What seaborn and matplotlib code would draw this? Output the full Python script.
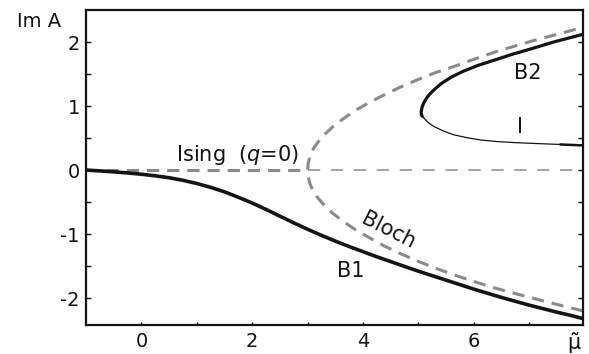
import matplotlib
matplotlib.use("Agg")
import matplotlib.pyplot as plt
import seaborn as sns

# ---- data ----
b1_x = [-1.0, -0.75, -0.5, -0.25, 0.0, 0.25, 0.5, 0.75, 1.0, 1.25, 1.5, 1.75, 2.0, 2.25, 2.5, 2.75,
        3.0, 3.25, 3.5, 3.75, 4.0, 4.25, 4.5, 4.75, 5.0, 5.25, 5.5, 5.75, 6.0, 6.25, 6.5, 6.75,
        7.0, 7.25, 7.5, 7.75, 7.97]
b1_y = [0.0, -0.013, -0.028, -0.045, -0.065, -0.09, -0.12, -0.16, -0.21, -0.27, -0.34, -0.425,
        -0.515, -0.615, -0.72, -0.825, -0.925, -1.02, -1.11, -1.195, -1.275, -1.355, -1.43, -1.505,
        -1.58, -1.65, -1.72, -1.79, -1.86, -1.925, -1.99, -2.05, -2.11, -2.165, -2.22, -2.27, -2.32]

bloch_x = [7.97, 7.55, 7.15, 6.75, 6.37, 6.0, 5.65, 5.3, 4.98, 4.66, 4.37, 4.1, 3.86, 3.64, 3.46,
           3.31, 3.19, 3.1, 3.04, 3.01, 3.0,
           3.01, 3.04, 3.1, 3.19, 3.31, 3.46, 3.64, 3.86, 4.1, 4.37, 4.66, 4.98, 5.3, 5.65, 6.0,
           6.37, 6.75, 7.15, 7.55, 7.97]
bloch_y = [-2.2, -2.11, -2.02, -1.93, -1.84, -1.74, -1.64, -1.53, -1.42, -1.3, -1.18, -1.05, -0.93,
           -0.8, -0.68, -0.56, -0.44, -0.33, -0.21, -0.1, 0.0,
           0.1, 0.21, 0.33, 0.44, 0.56, 0.68, 0.8, 0.93, 1.05, 1.17, 1.29, 1.41, 1.52, 1.62, 1.73,
           1.84, 1.94, 2.04, 2.13, 2.23]

ising_left_x = [-1.0, 3.0]
ising_left_y = [0.0, 0.0]
ising_right_x = [3.0, 7.97]
ising_right_y = [0.0, 0.0]

b2_x = [5.07, 5.055, 5.05, 5.053, 5.065, 5.086, 5.115, 5.152, 5.208, 5.29, 5.41, 5.59, 5.8,
        6.06, 6.38, 6.7, 7.02, 7.44, 7.97]
b2_y = [0.84, 0.86, 0.885, 0.93, 0.98, 1.03, 1.08, 1.13, 1.19, 1.26, 1.35, 1.45, 1.54,
        1.63, 1.72, 1.81, 1.89, 2.0, 2.12]

i_x = [5.05, 5.07, 5.1, 5.18, 5.28, 5.45, 5.64, 5.88, 6.12, 6.42, 6.72, 7.1, 7.56, 7.97]
i_y = [0.885, 0.84, 0.81, 0.74, 0.68, 0.61, 0.55, 0.505, 0.47, 0.445, 0.43, 0.415, 0.4, 0.385]

xticks = [0, 2, 4, 6]
xtick_labels = ["0", "2", "4", "6"]
yticks = [-2, -1, 0, 1, 2]
ytick_labels = ["-2", "-1", "0", "1", "2"]

# ---- styling ----
sns.set_theme(style="white")
plt.rcParams["font.family"] = ["DejaVu Sans"]
plt.rcParams["mathtext.fontset"] = "dejavusans"

GRAY = "#8a8a8a"
BLACK = "#141414"

fig = plt.figure(figsize=(5.89, 3.54), dpi=100)
ax = fig.add_axes([86 / 589, 29 / 354, 497 / 589, 315 / 354])

sns.lineplot(x=ising_left_x, y=ising_left_y, ax=ax, color=GRAY, lw=2.2,
             linestyle=(0, (4.0, 2.6)), sort=False, estimator=None)
sns.lineplot(x=ising_right_x, y=ising_right_y, ax=ax, color=GRAY, lw=1.1,
             linestyle=(0, (8.0, 7.0)), sort=False, estimator=None)
sns.lineplot(x=bloch_x, y=bloch_y, ax=ax, color=GRAY, lw=2.2,
             linestyle=(0, (4.0, 2.6)), sort=False, estimator=None)
sns.lineplot(x=b1_x, y=b1_y, ax=ax, color=BLACK, lw=2.6, sort=False, estimator=None)
sns.lineplot(x=i_x, y=i_y, ax=ax, color=BLACK, lw=0.9, sort=False, estimator=None)
sns.lineplot(x=i_x[-2:], y=i_y[-2:], ax=ax, color=BLACK, lw=1.8, sort=False, estimator=None)
sns.lineplot(x=b2_x, y=b2_y, ax=ax, color=BLACK, lw=2.3, sort=False, estimator=None)

ax.set_xlim(-1.0, 7.97)
ax.set_ylim(-2.42, 2.5)

ax.set_xticks(xticks)
ax.set_xticklabels(xtick_labels)
ax.set_yticks(yticks)
ax.set_yticklabels(ytick_labels)
ax.set_xticks([1, 3, 5, 7], minor=True)
ax.set_yticks([-1.5, -0.5, 0.5, 1.5], minor=True)

for s in ax.spines.values():
    s.set_color(BLACK)
    s.set_linewidth(1.6)

ax.tick_params(axis="both", which="both", direction="in", width=1.0,
               color=BLACK, labelsize=14, labelcolor=BLACK)
ax.tick_params(axis="y", which="both", right=True, left=True, length=3.4, pad=4.5)
ax.tick_params(axis="x", which="both", bottom=True, top=False, length=2.3, pad=5)

ax.set_xlabel("")
ax.set_ylabel("")

ax.annotate("\u03bc\u0303", xy=(7.8, 0), xycoords=("data", "axes fraction"),
            xytext=(0, -12.5), textcoords="offset points", ha="center", va="center",
            fontsize=15, color=BLACK)
ax.text(-0.095, 0.965, "Im A", transform=ax.transAxes, ha="center", va="center",
        fontsize=14, color=BLACK)

ax.text(1.73, 0.24, r"Ising  ($q$=0)", ha="center", va="center", fontsize=15, color=BLACK)
ax.text(4.45, -0.95, "Bloch", ha="center", va="center", fontsize=15, color=BLACK, rotation=-27)
ax.text(3.77, -1.58, "B1", ha="center", va="center", fontsize=15, color=BLACK)
ax.text(6.97, 1.52, "B2", ha="center", va="center", fontsize=15, color=BLACK)
ax.text(6.84, 0.68, "I", ha="center", va="center", fontsize=15, color=BLACK)

fig.savefig("out.png", dpi=100)
